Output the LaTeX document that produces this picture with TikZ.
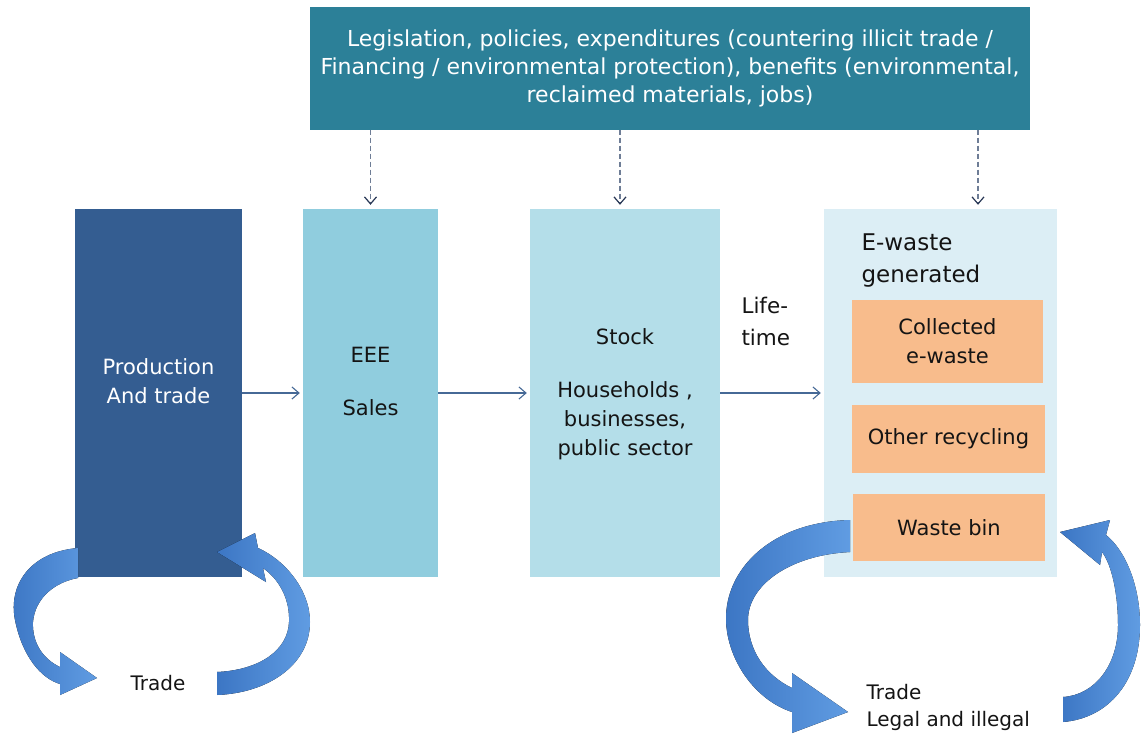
\documentclass[tikz,border=0pt]{standalone}
\usepackage{fontspec}
\setmainfont{DejaVu Sans}
\usetikzlibrary{arrows.meta, positioning}
\definecolor{policyteal}{RGB}{44,128,152}
\definecolor{proddark}{RGB}{52,93,145}
\definecolor{eeeblue}{RGB}{144,205,222}
\definecolor{stockblue}{RGB}{180,222,233}
\definecolor{wasteblue}{RGB}{220,238,245}
\definecolor{binorange}{RGB}{248,188,140}
\definecolor{flowline}{RGB}{70,105,150}
\definecolor{dashgray}{RGB}{110,125,150}
\definecolor{tipnavy}{RGB}{40,55,85}
\definecolor{loopdark}{RGB}{60,118,196}
\definecolor{looplight}{RGB}{96,156,226}

\begin{document}
\begin{tikzpicture}[x=1pt, y=-1pt,
  stage/.style={minimum height=368pt, inner sep=0pt, draw=none},
  part/.style={fill=binorange, inner sep=0pt, draw=none},
  lbl/.style={text=black!92, font=\fontsize{21}{29}\selectfont, align=center},
  flow/.style={flowline, line width=1.1pt, -{Straight Barb[length=7pt, width=12pt]}},
  dashflow/.style={dashgray, line width=1.2pt, dash pattern=on 5pt off 3pt,
    -{Straight Barb[length=7pt, width=12pt, color=tipnavy]}},
  loop/.style={left color=loopdark, right color=looplight, draw=none}]
  \useasboundingbox (0,0) rectangle (1142,734);

  % top box
  \node[fill=policyteal, minimum width=720pt, minimum height=123pt, inner sep=0pt,
    text=white, font=\fontsize{22}{28}\selectfont, align=center] (policy) at (670,68)
    {Legislation, policies, expenditures (countering illicit trade /\\
     Financing / environmental protection), benefits (environmental,\\
     reclaimed materials, jobs)};

  % stages
  \node[stage, fill=proddark, minimum width=167pt] (prod) at (158.5,393) {};
  \node[stage, fill=eeeblue, minimum width=135pt] (eee) at (370.5,393) {};
  \node[stage, fill=stockblue, minimum width=190pt] (stock) at (625,393) {};
  \node[stage, fill=wasteblue, minimum width=233pt] (ewaste) at (940.5,393) {};

  \node[lbl, text=white] (prodtxt) at (158.5,381) {Production\\And trade};
  \node[lbl] (eeetxt) at (370.5,355) {EEE};
  \node[lbl] (salestxt) at (370.5,408) {Sales};
  \node[lbl] (stocktxt) at (625,337) {Stock};
  \node[lbl] (holdtxt) at (625,421) {Households ,\\businesses,\\public sector};
  \node[lbl, font=\fontsize{23}{32}\selectfont, align=left, anchor=west] (ewtxt) at (858,261)
    {E-waste\\generated};
  \node[lbl, font=\fontsize{21.5}{32}\selectfont, align=left, anchor=west] (lifetxt) at (738,321)
    {Life-\\time};

  \node[part, minimum width=191pt, minimum height=83pt, lbl] (coll) at (947.5,341.5)
    {Collected\\e-waste};
  \node[part, minimum width=193pt, minimum height=68pt, lbl] (other) at (948.5,439)
    {Other recycling};
  \node[part, minimum width=192pt, minimum height=67pt, lbl] (bin) at (949,527.5)
    {Waste bin};

  % dashed influence arrows
  \draw[dashflow] (policy.south -| eee.north) -- ([yshift=4pt]eee.north);
  \draw[dashflow] ([xshift=-5pt]policy.south -| stock.north) -- ([xshift=-5pt, yshift=4pt]stock.north);
  \draw[dashflow] ([xshift=37.5pt]policy.south -| ewaste.north) -- ([xshift=37.5pt, yshift=4pt]ewaste.north);

  % flow arrows
  \draw[flow] (prod.east) -- ([xshift=-3pt]eee.west);
  \draw[flow] (eee.east) -- ([xshift=-3pt]stock.west);
  \draw[flow] (stock.east) -- ([xshift=-3pt]ewaste.west);

  % trade loops
  \fill[loop] (78,548) .. controls (30,552) and (8,585) .. (15,620)
    .. controls (22,655) and (40,678) .. (60,684) -- (60,695) -- (97,678) -- (60,652)
    -- (60,667) .. controls (45,660) and (32,645) .. (33,622)
    .. controls (35,598) and (55,582) .. (78,578) -- cycle;
  \fill[loop] (217,695) .. controls (268,693) and (310,665) .. (310,622)
    .. controls (310,590) and (285,560) .. (258,548) -- (255,533) -- (217,552)
    -- (266,582) -- (263,568) .. controls (280,580) and (290,600) .. (289,622)
    .. controls (288,650) and (260,670) .. (217,672) -- cycle;
  \fill[loop] (850,520) .. controls (770,522) and (725,570) .. (726,620)
    .. controls (727,660) and (755,700) .. (792,712) -- (792,733) -- (848,712)
    -- (792,673) -- (792,688) .. controls (765,675) and (748,650) .. (748,620)
    .. controls (748,585) and (790,555) .. (850,552) -- cycle;
  \fill[loop] (1063,722) .. controls (1110,718) and (1140,680) .. (1140,625)
    .. controls (1140,585) and (1125,550) .. (1106,535) -- (1110,520) -- (1060,532)
    -- (1100,565) -- (1102,552) .. controls (1112,565) and (1118,595) .. (1118,625)
    .. controls (1118,665) and (1095,695) .. (1063,697) -- cycle;

  \node[lbl, font=\fontsize{20}{27}\selectfont] (tradeleft) at (158,683) {Trade};
  \node[lbl, font=\fontsize{20}{27}\selectfont, align=left, anchor=west] (traderight) at (863,707)
    {Trade\\Legal and illegal};
\end{tikzpicture}
\end{document}
